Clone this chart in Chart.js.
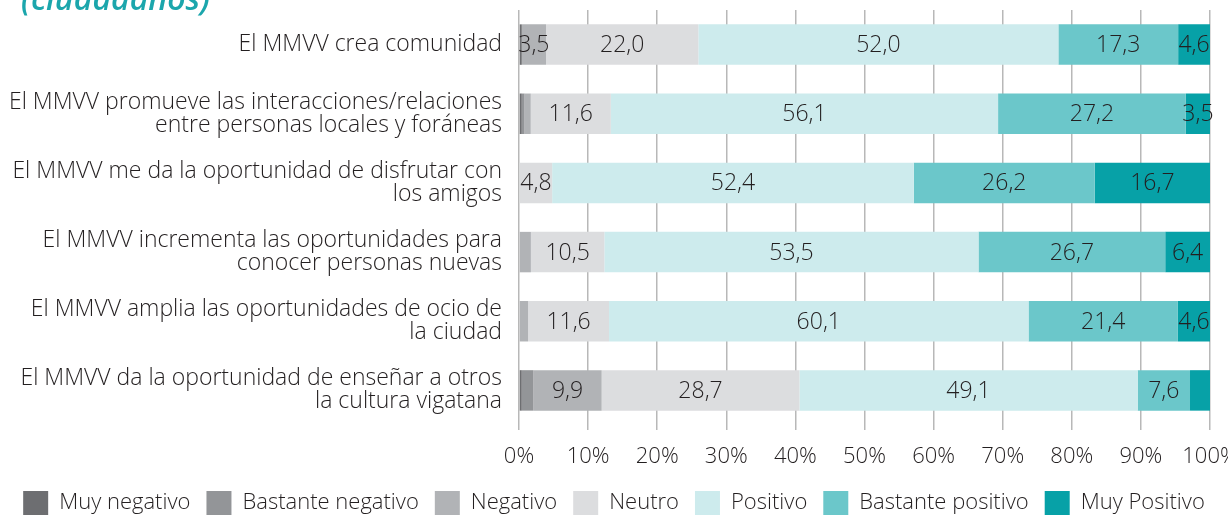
<!DOCTYPE html>
<html lang="es">
<head>
<meta charset="UTF-8">
<title>MMVV - ciudadanos</title>
<script src="https://cdn.jsdelivr.net/npm/chart.js"></script>
<style>
  html, body { margin: 0; padding: 0; background: #fff; overflow: hidden; }
  .wrap { position: relative; width: 1228px; height: 516px; }
  .titulo {
    position: absolute; left: 21px; top: -20px;
    font: italic 600 32px 'Open Sans', sans-serif; line-height: 36px;
    color: #1ba6ac; white-space: nowrap;
  }
</style>
</head>
<body>
<div class="wrap">
  <canvas id="grafico" width="1228" height="516"></canvas>
  <div class="titulo">(ciudadanos)</div>
</div>

<script>
// preguntas (eje Y)
const categorias = [
  ['El MMVV crea comunidad'],
  ['El MMVV promueve las interacciones/relaciones', 'entre personas locales y foráneas'],
  ['El MMVV me da la oportunidad de disfrutar con', 'los amigos'],
  ['El MMVV incrementa las oportunidades para', 'conocer personas nuevas'],
  ['El MMVV amplia las oportunidades de ocio de', 'la ciudad'],
  ['El MMVV da la oportunidad de enseñar a otros', 'la cultura vigatana']
];

// % de respuestas por categoria
const muyNegativo      = [0.4, 0.4, 0,    0,    0,    0.4];
const bastanteNegativo = [0,   0.4, 0,    0,    0,    1.7];
const negativo         = [3.5, 0.9, 0,    1.7,  1.3,  9.9];
const neutro           = [22.0, 11.6, 4.8, 10.5, 11.6, 28.7];
const positivo         = [52.0, 56.1, 52.4, 53.5, 60.1, 49.1];
const bastantePositivo = [17.3, 27.2, 26.2, 26.7, 21.4, 7.6];
const muyPositivo      = [4.6, 3.5, 16.7, 6.4, 4.6, 2.9];

const ticksX = [0, 10, 20, 30, 40, 50, 60, 70, 80, 90, 100];

const series = [
  { nombre: 'Muy negativo',      datos: muyNegativo,      color: '#6d6e71' },
  { nombre: 'Bastante negativo', datos: bastanteNegativo, color: '#939598' },
  { nombre: 'Negativo',          datos: negativo,         color: '#b1b3b6' },
  { nombre: 'Neutro',            datos: neutro,           color: '#dcdddf' },
  { nombre: 'Positivo',          datos: positivo,         color: '#cdebed' },
  { nombre: 'Bastante positivo', datos: bastantePositivo, color: '#6bc7ca' },
  { nombre: 'Muy Positivo',      datos: muyPositivo,      color: '#07a1a7' }
];

// barras al 100% (como el grafico original)
const totales = categorias.map((c, j) => series.reduce((s, d) => s + d.datos[j], 0));

const fuente = { family: "'Open Sans', sans-serif", size: 23, weight: '300' };

const etiquetas = {
  id: 'etiquetas',
  afterDatasetsDraw(chart) {
    const ctx = chart.ctx;
    ctx.save();
    ctx.font = `${fuente.weight} ${fuente.size}px ${fuente.family}`;
    ctx.fillStyle = '#231f20';
    ctx.textAlign = 'center';
    ctx.textBaseline = 'middle';
    chart.data.datasets.forEach((ds, i) => {
      chart.getDatasetMeta(i).data.forEach((bar, j) => {
        const v = series[i].datos[j];
        if (v < 3) return;
        const p = bar.getProps(['x', 'y', 'base'], true);
        ctx.fillText(v.toFixed(1).replace('.', ','), (p.x + p.base) / 2, p.y + 1);
      });
    });
    ctx.restore();
  }
};

new Chart(document.getElementById('grafico'), {
  type: 'bar',
  data: {
    labels: categorias,
    datasets: series.map(s => ({
      label: s.nombre,
      data: s.datos.map((v, j) => v / totales[j] * 100),
      backgroundColor: s.color,
      borderWidth: 0,
      barPercentage: 0.585,
      categoryPercentage: 1
    }))
  },
  options: {
    indexAxis: 'y',
    responsive: false,
    animation: false,
    layout: { padding: { top: 10, right: 0, left: 0, bottom: -9 } },
    scales: {
      x: {
        stacked: true,
        min: 0,
        max: 100,
        afterBuildTicks: (scale) => { scale.ticks = ticksX.map(v => ({ value: v })); },
        afterFit: (scale) => { scale.paddingRight = 18; scale.paddingLeft = 0; scale.height = 50; },
        ticks: { callback: v => v + '%', color: '#231f20', font: { ...fuente, size: 22 }, padding: 14, maxRotation: 0 },
        grid: { color: '#b8b8b8', lineWidth: 1.5, tickLength: 5, drawTicks: true },
        border: { display: false }
      },
      y: {
        stacked: true,
        afterFit: (scale) => { scale.width = 519; scale.paddingTop = 0; scale.paddingBottom = 0; },
        ticks: { color: '#231f20', font: { ...fuente, lineHeight: 1.0 }, padding: 17 },
        grid: { display: false, drawTicks: false },
        border: { display: false }
      }
    },
    plugins: {
      tooltip: { enabled: false },
      legend: {
        position: 'bottom',
        labels: {
          boxWidth: 25,
          boxHeight: 24,
          padding: 16,
          color: '#231f20',
          font: { ...fuente, size: 22 }
        }
      }
    }
  },
  plugins: [etiquetas]
});
</script>
</body>
</html>
